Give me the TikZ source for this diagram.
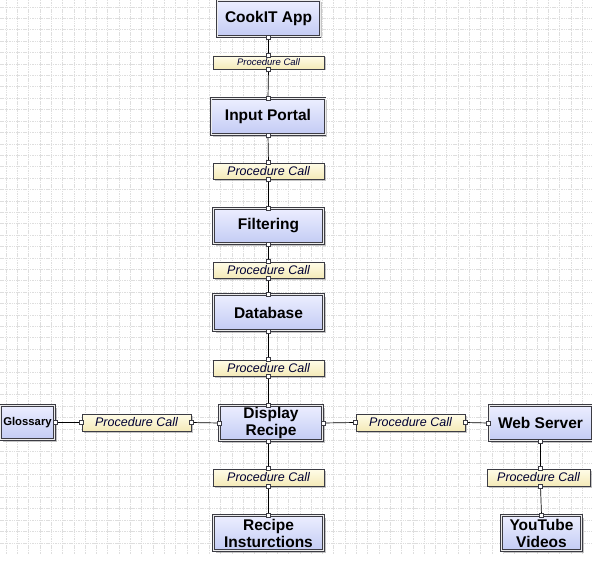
\documentclass[tikz,border=0pt]{standalone}
\usepackage{fontspec}
\setmainfont{Liberation Sans}
\usetikzlibrary{shadows}
\definecolor{boxtop}{HTML}{ECEEFF}
\definecolor{boxbot}{HTML}{C3CBF4}
\definecolor{labtop}{HTML}{FFFCE8}
\definecolor{labbot}{HTML}{F4EAB8}
\definecolor{frame}{HTML}{3C3C44}
\definecolor{gridc}{HTML}{DEDEDE}
\tikzset{
  x=1pt, y=-1pt,
  comp/.style={rectangle, top color=boxtop, bottom color=boxbot,
    draw=frame, line width=1pt, double=white!85!gray, double distance=0.7pt,
    drop shadow={shadow xshift=2pt, shadow yshift=-2pt, fill=black!45},
    align=center, inner sep=0pt, font=\bfseries\fontsize{15.5}{17}\selectfont},
  call/.style={rectangle, top color=labtop, bottom color=labbot,
    draw=frame, line width=0.7pt,
    drop shadow={shadow xshift=1.5pt, shadow yshift=-1.5pt, fill=black!45},
    inner sep=0pt, minimum width=111pt, minimum height=16pt,
    text=black!80!blue, font=\itshape\fontsize{12.5}{14}\selectfont},
  port/.style={rectangle, draw=frame, fill=white, line width=0.5pt,
    minimum size=4pt, inner sep=0pt},
  wire/.style={draw=black, line width=0.7pt},
  gridline/.style={draw=gridc, line width=0.6pt, dash pattern=on 1.5pt off 0.8pt}
}
\newcommand{\prt}[1]{\node[port] at #1 {};}
\begin{document}
\begin{tikzpicture}
\useasboundingbox (0,0) rectangle (592,578);
\fill[white] (0,0) rectangle (592,578);
\foreach \gx in {6,17.3,...,592} {\draw[gridline] (\gx,0) -- (\gx,554);}
\foreach \gy in {7,18.4,...,554} {\draw[gridline] (0,\gy) -- (592,\gy);}

% components
\node[comp, minimum width=103pt, minimum height=36pt] (cook) at (268.5,18.5) {CookIT App};
\node[comp, minimum width=114pt, minimum height=36pt] (input) at (268,116.5) {Input Portal};
\node[comp, minimum width=110pt, minimum height=35pt] (filt) at (268.5,226) {Filtering};
\node[comp, minimum width=110pt, minimum height=36pt] (db) at (268.5,312.5) {Database};
\node[comp, minimum width=103pt, minimum height=35pt] (disp) at (271,423) {Display\\Recipe};
\node[comp, minimum width=54pt, minimum height=34pt, font=\bfseries\fontsize{11.3}{13}\selectfont] (gloss) at (27.5,422.5) {Glossary};
\node[comp, minimum width=103pt, minimum height=35pt] (web) at (540.5,423) {Web Server};
\node[comp, minimum width=110pt, minimum height=35pt] (rec) at (268.5,533) {Recipe\\Insturctions};
\node[comp, minimum width=80pt, minimum height=35pt] (yt) at (541.5,533) {YouTube\\Videos};

% procedure calls
\node[call, minimum height=13pt, font=\itshape\fontsize{9.5}{11}\selectfont] (pc1) at (268.5,62.5) {Procedure Call};
\node[call] (pc2) at (268.5,171) {Procedure Call};
\node[call] (pc3) at (268.5,270) {Procedure Call};
\node[call] (pc4) at (268.5,368) {Procedure Call};
\node[call, minimum width=109pt, minimum height=17pt] (pcl) at (136.5,422.5) {Procedure Call};
\node[call, minimum width=109pt, minimum height=17pt] (pcr) at (410.5,422.5) {Procedure Call};
\node[call, minimum height=17pt] (pcd) at (268.5,477.5) {Procedure Call};
\node[call, minimum width=103pt, minimum height=17pt] (pcw) at (538.5,477.5) {Procedure Call};

% connectors
\draw[wire] (cook.south) -- (pc1.north);
\draw[wire] (pc1.south) -- (input.north);
\draw[wire] (input.south) -- (pc2.north);
\draw[wire] (pc2.south) -- (filt.north);
\draw[wire] (filt.south) -- (pc3.north);
\draw[wire] (pc3.south) -- (db.north);
\draw[wire] (db.south) -- (pc4.north);
\draw[wire] (pc4.south) -- (pc4.south |- disp.north);
\draw[wire] (pc4.south |- disp.south) -- (pcd.north);
\draw[wire] (pcd.south) -- (rec.north);
\draw[wire] (gloss.east) -- (pcl.west);
\draw[wire] (pcl.east) -- (disp.west);
\draw[wire] (disp.east) -- (pcr.west);
\draw[wire] (pcr.east) -- (web.west);
\draw[wire] (web.south) -- (pcw.north -| web.south);
\draw[wire] (pcw.south -| web.south) -- (yt.north);

% ports
\foreach \p in {cook.south, pc1.north, pc1.south, input.north, input.south,
  pc2.north, pc2.south, filt.north, filt.south, pc3.north, pc3.south,
  db.north, db.south, pc4.north, pc4.south, pcd.north, pcd.south, rec.north,
  gloss.east, pcl.west, pcl.east, disp.west, disp.east, pcr.west, pcr.east,
  web.west, web.south, yt.north}
  {\prt{(\p)}}
\prt{(pc4.south |- disp.north)}
\prt{(pc4.south |- disp.south)}
\prt{(pcw.north -| web.south)}
\prt{(pcw.south -| web.south)}
\end{tikzpicture}
\end{document}
